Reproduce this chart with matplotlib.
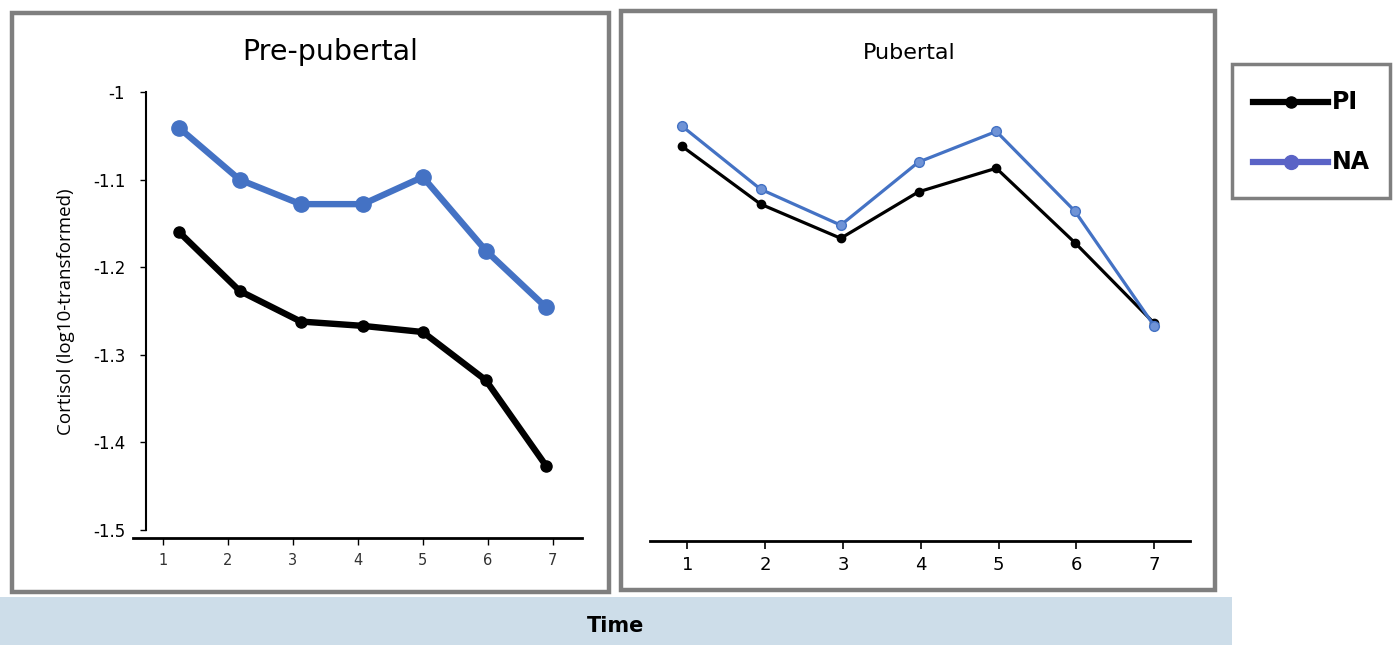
import matplotlib
matplotlib.use("Agg")
import matplotlib.pyplot as plt
from matplotlib.patches import Rectangle
from matplotlib.lines import Line2D

# Datos
time_ticks = [1, 2, 3, 4, 5, 6, 7]
time_pre = [1.25, 2.18, 3.12, 4.08, 5.0, 5.97, 6.9]
pi_pre = [-1.160, -1.227, -1.262, -1.267, -1.274, -1.329, -1.427]
na_pre = [-1.041, -1.100, -1.128, -1.128, -1.097, -1.181, -1.246]

time_pub = [0.93, 1.94, 2.97, 3.97, 4.97, 5.98, 7.0]
pi_pub = [-1.062, -1.128, -1.167, -1.114, -1.087, -1.172, -1.264]
na_pub = [-1.039, -1.111, -1.152, -1.080, -1.045, -1.136, -1.267]

y_ticks = [-1.5, -1.4, -1.3, -1.2, -1.1, -1.0]
y_labels = ['-1.5', '-1.4', '-1.3', '-1.2', '-1.1', '-1']

W, H = 1398, 645
NEGRO = '#000000'
AZUL = '#4472c4'
GRIS = '#7f7f7f'
narrow = ['Liberation Sans Narrow', 'DejaVu Sans']

fig = plt.figure(figsize=(W / 100, H / 100), dpi=100)


def caja(x0, y0, x1, y1, lw=3, **kw):
    # rectangulo en pixeles (origen arriba a la izquierda)
    r = Rectangle((x0 / W, 1 - y1 / H), (x1 - x0) / W, (y1 - y0) / H,
                  transform=fig.transFigure, fill=kw.pop('fill', False),
                  edgecolor=kw.pop('edgecolor', GRIS), linewidth=lw, **kw)
    fig.patches.append(r)


def ejes(x0, y0, x1, y1):
    return fig.add_axes([x0 / W, 1 - y1 / H, (x1 - x0) / W, (y1 - y0) / H])


# marcos de los paneles
caja(12, 13, 609, 592, lw=3.2)
caja(621, 11, 1215, 590, lw=3.2)
caja(1232, 64, 1390, 198, lw=2.5)
caja(0, 597, 1232, 645, lw=0, fill=True, facecolor='#cddde9', edgecolor='none')

# ---- panel pre-pubertal ----
ax1 = ejes(133, 92, 582, 538)
ax1.plot(time_pre, na_pre, color=AZUL, lw=4.6, marker='o', ms=11, zorder=3)
ax1.plot(time_pre, pi_pre, color=NEGRO, lw=4.6, marker='o', ms=8, zorder=3)
ax1.set_xlim(0.54, 7.45)
ax1.set_ylim(-1.5 - 8 / 876, -1.0)
ax1.spines['top'].set_visible(False)
ax1.spines['right'].set_visible(False)
ax1.spines['left'].set_position(('data', 0.74))
ax1.spines['left'].set_bounds(-1.5, -1.0)
ax1.spines['left'].set_linewidth(1.5)
ax1.spines['bottom'].set_linewidth(2)
ax1.set_yticks(y_ticks)
ax1.set_yticklabels(y_labels, fontsize=12)
ax1.tick_params(axis='y', length=4, width=1, pad=11)
ax1.set_xticks(time_ticks)
ax1.set_xticklabels([str(t) for t in time_ticks], fontsize=10.5, color='#333333')
ax1.tick_params(axis='x', length=5, width=1, pad=6)
ax1.set_facecolor('none')
fig.text(330 / W, 1 - 52 / H, 'Pre-pubertal', ha='center', va='center',
         fontsize=20.5, family='DejaVu Sans')
fig.text(66 / W, 1 - 312 / H, 'Cortisol (log10-transformed)', ha='center',
         va='center', rotation=90, fontsize=13.5, family='Open Sans')

# ---- panel puberal ----
ax2 = ejes(650, 92, 1190, 541)
ax2.plot(time_pub, pi_pub, color=NEGRO, lw=2.3, marker='o', ms=6, zorder=3)
ax2.plot(time_pub, na_pub, color=AZUL, lw=2.3, marker='o', ms=7,
         markerfacecolor='#6f93d6', zorder=3)
ax2.set_xlim(0.518, 7.46)
ax2.set_ylim(-1.5 - 11 / 876, -1.0)
for s in ['top', 'right', 'left']:
    ax2.spines[s].set_visible(False)
ax2.spines['bottom'].set_linewidth(2)
ax2.set_yticks([])
ax2.set_xticks(time_ticks)
ax2.set_xticklabels([str(t) for t in time_ticks], fontsize=13, family=narrow)
ax2.tick_params(axis='x', length=6, width=1.2, pad=5)
ax2.set_facecolor('none')
fig.text(909 / W, 1 - 53 / H, 'Pubertal', ha='center', va='center',
         fontsize=16, family=narrow)

# ---- leyenda ----
lx0, lx1 = 1253 / W, 1328 / W
for yy, col, ms, lab in [(102, NEGRO, 8, 'PI'), (162, '#5a63c6', 10, 'NA')]:
    fy = 1 - yy / H
    fig.add_artist(Line2D([lx0, lx1], [fy, fy], color=col, lw=4.5,
                          transform=fig.transFigure))
    fig.add_artist(Line2D([(lx0 + lx1) / 2], [fy], color=col, marker='o', ms=ms,
                          transform=fig.transFigure))
    fig.text(1332 / W, fy, lab, ha='left', va='center', fontsize=17,
             fontweight='bold', family=narrow)

fig.text(616 / W, 1 - 626 / H, 'Time', ha='center', va='center', fontsize=15,
         fontweight='bold', family=narrow)

fig.savefig('out.png', dpi=100)
